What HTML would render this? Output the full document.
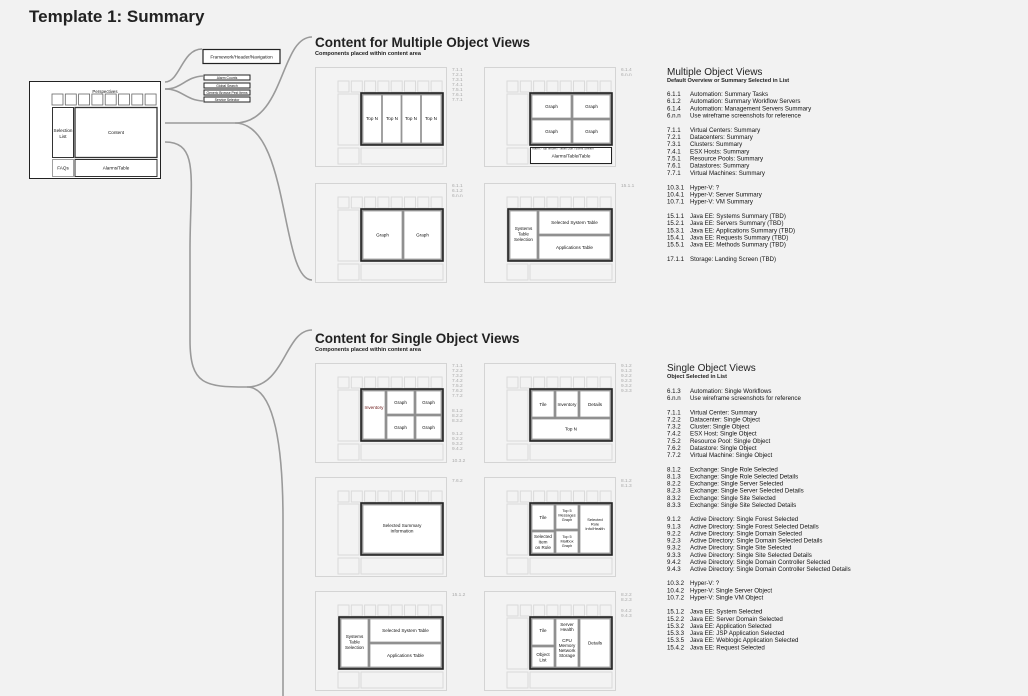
<!DOCTYPE html>
<html><head><meta charset="utf-8"><style>
html,body{margin:0;padding:0;background:#f2f2f2;}
svg{display:block;font-family:"Liberation Sans",Arial,sans-serif;}
.t{font-size:4.6px;fill:#111;text-anchor:middle;}
.n{font-size:4.8px;fill:#aaa;}
.sh{fill:#f3f3f3;stroke:#d4d4d4;stroke-width:1;}
.sb{fill:#f3f3f3;stroke:#dadada;stroke-width:1;}
.ob{fill:#8a8a8a;stroke:#222;stroke-width:1.6;}
.c{fill:#fff;stroke:#9a9a9a;stroke-width:0.8;}
.cv{fill:none;stroke:#9a9a9a;stroke-width:1.6;}
.l{font-size:6.15px;fill:#111;}
</style></head><body>
<svg width="1028" height="696" viewBox="0 0 1028 696">
<defs>
<g id="shell">
<rect class="sh" x="0.5" y="0.5" width="131" height="99"/>
<rect class="sb" x="23" y="14" width="11" height="11"/><rect class="sb" x="36.3" y="14" width="11" height="11"/><rect class="sb" x="49.6" y="14" width="11" height="11"/><rect class="sb" x="62.9" y="14" width="11" height="11"/><rect class="sb" x="76.2" y="14" width="11" height="11"/><rect class="sb" x="89.5" y="14" width="11" height="11"/><rect class="sb" x="102.8" y="14" width="11" height="11"/><rect class="sb" x="116.1" y="14" width="11" height="11"/>
<rect class="sb" x="23" y="27" width="21" height="51"/>
<rect class="sb" x="23" y="81" width="21" height="16"/>
<rect class="sb" x="46" y="81" width="82" height="16"/>
</g>
</defs>

<text x="29" y="22" style="font-size:17px;font-weight:bold;fill:#222">Template 1: Summary</text>

<path class="cv" d="M165,82 C180,82 182,49 202,49"/>
<path class="cv" d="M165,89 C182,89 185,77 203,76"/>
<path class="cv" d="M165,89 C182,89 185,100 203,101"/>
<path class="cv" d="M165,123 L235,123 C285,123 280,37 312,37"/>
<path class="cv" d="M235,123 C290,123 280,280 312,280"/>
<path class="cv" d="M165,142 C200,142 190,180 190,250 L190,340 C190,385 205,387 247,387 C285,387 285,330 312,330"/>
<path class="cv" d="M247,387 C275,387 283,450 283,520 L283,696"/>

<rect x="29.5" y="81.5" width="131" height="97" fill="#fff" stroke="#222" stroke-width="1"/>
<text class="t" x="105" y="93" style="font-size:4.4px">Perspectives</text>
<g fill="#fff" stroke="#666" stroke-width="0.8">
<rect x="52" y="94" width="11" height="11"/><rect x="65.3" y="94" width="11" height="11"/><rect x="78.6" y="94" width="11" height="11"/><rect x="91.9" y="94" width="11" height="11"/><rect x="105.2" y="94" width="11" height="11"/><rect x="118.5" y="94" width="11" height="11"/><rect x="131.8" y="94" width="11" height="11"/><rect x="145.1" y="94" width="11" height="11"/>
</g>
<rect x="52.5" y="107.5" width="21" height="50" fill="#fff" stroke="#333" stroke-width="1"/>
<rect x="75" y="107.5" width="82" height="50" fill="#fff" stroke="#333" stroke-width="1.3"/>
<rect x="52.5" y="159.5" width="21" height="17" fill="#fff" stroke="#888" stroke-width="0.8"/>
<rect x="75" y="159.5" width="82" height="17" fill="#fff" stroke="#333" stroke-width="1"/>
<text class="t" x="63" y="132">Selection</text><text class="t" x="63" y="138">List</text>
<text class="t" x="116" y="134">Content</text>
<text class="t" x="63" y="169.5">FAQs</text>
<text class="t" x="116" y="169.5">Alarms/Table</text>

<rect x="203" y="49.5" width="77" height="14" fill="#fff" stroke="#222" stroke-width="1.2"/>
<text class="t" x="241.5" y="58.3">Framework/Header/Navigation</text>
<g fill="#fff" stroke="#222" stroke-width="1">
<rect x="204" y="75" width="46" height="5"/><rect x="204" y="83" width="46" height="5"/><rect x="204" y="90" width="46" height="5"/><rect x="204" y="97" width="46" height="5"/>
</g>
<text class="t" x="227" y="79" style="font-size:3.4px">Alarm Counts</text>
<text class="t" x="227" y="87" style="font-size:3.4px">Global Search</text>
<text class="t" x="227" y="94" style="font-size:3.4px">Generic Browse Pest Items</text>
<text class="t" x="227" y="101" style="font-size:3.4px">Service Selector</text>

<text x="315" y="47" style="font-size:13.5px;font-weight:bold;fill:#222">Content for Multiple Object Views</text>
<text x="315" y="55" style="font-size:5.6px;font-weight:bold;fill:#222">Components placed within content area</text>
<text x="315" y="343" style="font-size:13.5px;font-weight:bold;fill:#222">Content for Single Object Views</text>
<text x="315" y="351" style="font-size:5.6px;font-weight:bold;fill:#222">Components placed within content area</text>

<g transform="translate(315,67)"><use href="#shell"/>
<rect class="ob" x="46" y="26" width="82" height="52"/>
<rect class="c" x="48" y="28" width="18.5" height="48"/><rect class="c" x="67.5" y="28" width="18.5" height="48"/><rect class="c" x="87" y="28" width="18.5" height="48"/><rect class="c" x="106.5" y="28" width="19.5" height="48"/>
<text class="t" x="57" y="53">Top N</text><text class="t" x="77" y="53">Top N</text><text class="t" x="96" y="53">Top N</text><text class="t" x="116" y="53">Top N</text>
</g>
<text class="n" x="452" y="71">7.1.1</text><text class="n" x="452" y="76">7.2.1</text><text class="n" x="452" y="81">7.3.1</text><text class="n" x="452" y="86">7.4.1</text><text class="n" x="452" y="91">7.5.1</text><text class="n" x="452" y="96">7.6.1</text><text class="n" x="452" y="101">7.7.1</text>

<g transform="translate(484,67)"><use href="#shell"/>
<rect class="ob" x="46" y="26" width="82" height="52"/>
<rect class="c" x="48" y="28" width="39" height="23"/><rect class="c" x="89" y="28" width="37" height="23"/><rect class="c" x="48" y="53" width="39" height="23"/><rect class="c" x="89" y="53" width="37" height="23"/>
<text class="t" x="67.5" y="41">Graph</text><text class="t" x="107.5" y="41">Graph</text><text class="t" x="67.5" y="66">Graph</text><text class="t" x="107.5" y="66">Graph</text>
<rect x="46.5" y="80.5" width="81" height="16" fill="#fff" stroke="#222" stroke-width="1"/>
<text x="48" y="82.5" style="font-size:3px;fill:#333">Alarm / Top Issues / Tasks Due / Event Stream</text>
<text class="t" x="87" y="90.5">Alarms/Table/Table</text>
</g>
<text class="n" x="621" y="71">6.1.4</text><text class="n" x="621" y="76">6.n.n</text>

<g transform="translate(315,183)"><use href="#shell"/>
<rect class="ob" x="46" y="26" width="82" height="52"/>
<rect class="c" x="48" y="28" width="39" height="48"/><rect class="c" x="89" y="28" width="37" height="48"/>
<text class="t" x="67.5" y="53.5">Graph</text><text class="t" x="107.5" y="53.5">Graph</text>
</g>
<text class="n" x="452" y="187">6.1.1</text><text class="n" x="452" y="192">6.1.2</text><text class="n" x="452" y="197">6.n.n</text>

<g transform="translate(484,183)"><use href="#shell"/>
<rect class="ob" x="24" y="26" width="104" height="52"/>
<rect class="c" x="26" y="28" width="27" height="48"/><rect class="c" x="55" y="28" width="71" height="23"/><rect class="c" x="55" y="53" width="71" height="23"/>
<text class="t" x="39.5" y="47">Systems</text><text class="t" x="39.5" y="52.5">Table</text><text class="t" x="39.5" y="58">Selection</text>
<text class="t" x="90.5" y="41">Selected System Table</text><text class="t" x="90.5" y="66">Applications Table</text>
</g>
<text class="n" x="621" y="187">15.1.1</text>

<g transform="translate(315,363)"><use href="#shell"/>
<rect class="ob" x="46" y="26" width="82" height="52"/>
<rect class="c" x="48" y="28" width="22" height="48"/>
<rect class="c" x="72" y="28" width="27" height="23"/><rect class="c" x="101" y="28" width="25" height="23"/><rect class="c" x="72" y="53" width="27" height="23"/><rect class="c" x="101" y="53" width="25" height="23"/>
<text class="t" x="59" y="46" style="fill:#611">Inventory</text>
<text class="t" x="85.5" y="41">Graph</text><text class="t" x="113.5" y="41">Graph</text><text class="t" x="85.5" y="66">Graph</text><text class="t" x="113.5" y="66">Graph</text>
</g>
<text class="n" x="452" y="367">7.1.1</text><text class="n" x="452" y="372">7.2.2</text><text class="n" x="452" y="377">7.3.2</text><text class="n" x="452" y="382">7.4.2</text><text class="n" x="452" y="387">7.5.2</text><text class="n" x="452" y="392">7.6.2</text><text class="n" x="452" y="397">7.7.2</text>
<text class="n" x="452" y="412">8.1.2</text><text class="n" x="452" y="417">8.2.2</text><text class="n" x="452" y="422">8.3.2</text>
<text class="n" x="452" y="435">9.1.2</text><text class="n" x="452" y="440">9.2.2</text><text class="n" x="452" y="445">9.3.2</text><text class="n" x="452" y="450">9.4.2</text>
<text class="n" x="452" y="462">10.3.2</text>

<g transform="translate(484,363)"><use href="#shell"/>
<rect class="ob" x="46" y="26" width="82" height="52"/>
<rect class="c" x="48" y="28" width="22" height="26"/><rect class="c" x="72" y="28" width="22" height="26"/><rect class="c" x="96" y="28" width="30" height="26"/><rect class="c" x="48" y="56" width="78" height="20"/>
<text class="t" x="59" y="43">Tile</text><text class="t" x="83" y="43">Inventory</text><text class="t" x="111" y="43">Details</text><text class="t" x="87" y="67.5">Top N</text>
</g>
<text class="n" x="621" y="367">9.1.2</text><text class="n" x="621" y="372">9.1.3</text><text class="n" x="621" y="377">9.2.2</text><text class="n" x="621" y="382">9.2.3</text><text class="n" x="621" y="387">9.3.2</text><text class="n" x="621" y="392">9.3.3</text>

<g transform="translate(315,477)"><use href="#shell"/>
<rect class="ob" x="46" y="26" width="82" height="52"/>
<rect class="c" x="48" y="28" width="78" height="48"/>
<text class="t" x="87" y="50">Selected Summary</text><text class="t" x="87" y="55.5">Information</text>
</g>
<text class="n" x="452" y="482">7.6.2</text>

<g transform="translate(484,477)"><use href="#shell"/>
<rect class="ob" x="46" y="26" width="82" height="52"/>
<rect class="c" x="48" y="28" width="22" height="25"/><rect class="c" x="48" y="55" width="22" height="21"/>
<rect class="c" x="72" y="28" width="22" height="24"/><rect class="c" x="72" y="54" width="22" height="22"/>
<rect class="c" x="96" y="28" width="30" height="48"/>
<text class="t" x="59" y="42">Tile</text>
<text class="t" x="59" y="61">Selected</text><text class="t" x="59" y="66.5">Item</text><text class="t" x="59" y="72">on Role</text>
<text class="t" x="83" y="35" style="font-size:3.8px">Top 5</text><text class="t" x="83" y="39.5" style="font-size:3.8px">Messages</text><text class="t" x="83" y="44" style="font-size:3.8px">Graph</text>
<text class="t" x="83" y="61" style="font-size:3.8px">Top 5</text><text class="t" x="83" y="65.5" style="font-size:3.8px">Mailbox</text><text class="t" x="83" y="70" style="font-size:3.8px">Graph</text>
<text class="t" x="111" y="44" style="font-size:4px">Selected</text><text class="t" x="111" y="48.5" style="font-size:4px">Role</text><text class="t" x="111" y="53" style="font-size:4px">Info/Health</text>
</g>
<text class="n" x="621" y="482">8.1.2</text><text class="n" x="621" y="487">8.1.3</text>

<g transform="translate(315,591)"><use href="#shell"/>
<rect class="ob" x="24" y="26" width="104" height="52"/>
<rect class="c" x="26" y="28" width="27" height="48"/><rect class="c" x="55" y="28" width="71" height="23"/><rect class="c" x="55" y="53" width="71" height="23"/>
<text class="t" x="39.5" y="47">Systems</text><text class="t" x="39.5" y="52.5">Table</text><text class="t" x="39.5" y="58">Selection</text>
<text class="t" x="90.5" y="41">Selected System Table</text><text class="t" x="90.5" y="66">Applications Table</text>
</g>
<text class="n" x="452" y="596">15.1.2</text>

<g transform="translate(484,591)"><use href="#shell"/>
<rect class="ob" x="46" y="26" width="82" height="52"/>
<rect class="c" x="48" y="28" width="22" height="26"/><rect class="c" x="48" y="56" width="22" height="20"/>
<rect class="c" x="72" y="28" width="22" height="48"/><rect class="c" x="96" y="28" width="30" height="48"/>
<text class="t" x="59" y="41">Tile</text><text class="t" x="59" y="65">Object</text><text class="t" x="59" y="70.5">List</text>
<text class="t" x="83" y="35">Server</text><text class="t" x="83" y="40">Health</text>
<text class="t" x="83" y="51">CPU</text><text class="t" x="83" y="56">Memory</text><text class="t" x="83" y="61">Network</text><text class="t" x="83" y="66">Storage</text>
<text class="t" x="111" y="53.5">Details</text>
</g>
<text class="n" x="621" y="596">8.2.2</text><text class="n" x="621" y="601">8.2.3</text><text class="n" x="621" y="612">9.4.2</text><text class="n" x="621" y="617">9.4.3</text>

<text x="667" y="75" style="font-size:10px;fill:#222">Multiple Object Views</text>
<text x="667" y="82" style="font-size:5.6px;font-weight:bold;fill:#222">Default Overview or Summary Selected in List</text>
<text class="l" y="96"><tspan x="667">6.1.1</tspan><tspan x="690">Automation: Summary Tasks</tspan></text>
<text class="l" y="103.2"><tspan x="667">6.1.2</tspan><tspan x="690">Automation: Summary Workflow Servers</tspan></text>
<text class="l" y="110.3"><tspan x="667">6.1.4</tspan><tspan x="690">Automation: Management Servers Summary</tspan></text>
<text class="l" y="117.5"><tspan x="667">6.n.n</tspan><tspan x="690">Use wireframe screenshots for reference</tspan></text>
<text class="l" y="131.9"><tspan x="667">7.1.1</tspan><tspan x="690">Virtual Centers: Summary</tspan></text>
<text class="l" y="139"><tspan x="667">7.2.1</tspan><tspan x="690">Datacenters: Summary</tspan></text>
<text class="l" y="146.2"><tspan x="667">7.3.1</tspan><tspan x="690">Clusters: Summary</tspan></text>
<text class="l" y="153.4"><tspan x="667">7.4.1</tspan><tspan x="690">ESX Hosts: Summary</tspan></text>
<text class="l" y="160.6"><tspan x="667">7.5.1</tspan><tspan x="690">Resource Pools: Summary</tspan></text>
<text class="l" y="167.7"><tspan x="667">7.6.1</tspan><tspan x="690">Datastores: Summary</tspan></text>
<text class="l" y="174.9"><tspan x="667">7.7.1</tspan><tspan x="690">Virtual Machines: Summary</tspan></text>
<text class="l" y="189.3"><tspan x="667">10.3.1</tspan><tspan x="690">Hyper-V: ?</tspan></text>
<text class="l" y="196.4"><tspan x="667">10.4.1</tspan><tspan x="690">Hyper-V: Server Summary</tspan></text>
<text class="l" y="203.6"><tspan x="667">10.7.1</tspan><tspan x="690">Hyper-V: VM Summary</tspan></text>
<text class="l" y="218"><tspan x="667">15.1.1</tspan><tspan x="690">Java EE: Systems Summary (TBD)</tspan></text>
<text class="l" y="225.1"><tspan x="667">15.2.1</tspan><tspan x="690">Java EE: Servers Summary (TBD)</tspan></text>
<text class="l" y="232.3"><tspan x="667">15.3.1</tspan><tspan x="690">Java EE: Applications Summary (TBD)</tspan></text>
<text class="l" y="239.5"><tspan x="667">15.4.1</tspan><tspan x="690">Java EE: Requests Summary (TBD)</tspan></text>
<text class="l" y="246.6"><tspan x="667">15.5.1</tspan><tspan x="690">Java EE: Methods Summary (TBD)</tspan></text>
<text class="l" y="261"><tspan x="667">17.1.1</tspan><tspan x="690">Storage: Landing Screen (TBD)</tspan></text>

<text x="667" y="371" style="font-size:10px;fill:#222">Single Object Views</text>
<text x="667" y="378" style="font-size:5.6px;font-weight:bold;fill:#222">Object Selected in List</text>
<text class="l" y="393"><tspan x="667">6.1.3</tspan><tspan x="690">Automation: Single Workflows</tspan></text>
<text class="l" y="400.1"><tspan x="667">6.n.n</tspan><tspan x="690">Use wireframe screenshots for reference</tspan></text>
<text class="l" y="414.4"><tspan x="667">7.1.1</tspan><tspan x="690">Virtual Center: Summary</tspan></text>
<text class="l" y="421.5"><tspan x="667">7.2.2</tspan><tspan x="690">Datacenter: Single Object</tspan></text>
<text class="l" y="428.6"><tspan x="667">7.3.2</tspan><tspan x="690">Cluster: Single Object</tspan></text>
<text class="l" y="435.7"><tspan x="667">7.4.2</tspan><tspan x="690">ESX Host: Single Object</tspan></text>
<text class="l" y="442.8"><tspan x="667">7.5.2</tspan><tspan x="690">Resource Pool: Single Object</tspan></text>
<text class="l" y="450"><tspan x="667">7.6.2</tspan><tspan x="690">Datastore: Single Object</tspan></text>
<text class="l" y="457.1"><tspan x="667">7.7.2</tspan><tspan x="690">Virtual Machine: Single Object</tspan></text>
<text class="l" y="471.3"><tspan x="667">8.1.2</tspan><tspan x="690">Exchange: Single Role Selected</tspan></text>
<text class="l" y="478.4"><tspan x="667">8.1.3</tspan><tspan x="690">Exchange: Single Role Selected Details</tspan></text>
<text class="l" y="485.6"><tspan x="667">8.2.2</tspan><tspan x="690">Exchange: Single Server Selected</tspan></text>
<text class="l" y="492.7"><tspan x="667">8.2.3</tspan><tspan x="690">Exchange: Single Server Selected Details</tspan></text>
<text class="l" y="499.8"><tspan x="667">8.3.2</tspan><tspan x="690">Exchange: Single Site Selected</tspan></text>
<text class="l" y="506.9"><tspan x="667">8.3.3</tspan><tspan x="690">Exchange: Single Site Selected Details</tspan></text>
<text class="l" y="521.2"><tspan x="667">9.1.2</tspan><tspan x="690">Active Directory: Single Forest Selected</tspan></text>
<text class="l" y="528.3"><tspan x="667">9.1.3</tspan><tspan x="690">Active Directory: Single Forest Selected Details</tspan></text>
<text class="l" y="535.4"><tspan x="667">9.2.2</tspan><tspan x="690">Active Directory: Single Domain Selected</tspan></text>
<text class="l" y="542.5"><tspan x="667">9.2.3</tspan><tspan x="690">Active Directory: Single Domain Selected Details</tspan></text>
<text class="l" y="549.6"><tspan x="667">9.3.2</tspan><tspan x="690">Active Directory: Single Site Selected</tspan></text>
<text class="l" y="556.8"><tspan x="667">9.3.3</tspan><tspan x="690">Active Directory: Single Site Selected Details</tspan></text>
<text class="l" y="563.9"><tspan x="667">9.4.2</tspan><tspan x="690">Active Directory: Single Domain Controller Selected</tspan></text>
<text class="l" y="571"><tspan x="667">9.4.3</tspan><tspan x="690">Active Directory: Single Domain Controller Selected Details</tspan></text>
<text class="l" y="585.2"><tspan x="667">10.3.2</tspan><tspan x="690">Hyper-V: ?</tspan></text>
<text class="l" y="592.4"><tspan x="667">10.4.2</tspan><tspan x="690">Hyper-V: Single Server Object</tspan></text>
<text class="l" y="599.5"><tspan x="667">10.7.2</tspan><tspan x="690">Hyper-V: Single VM Object</tspan></text>
<text class="l" y="613.7"><tspan x="667">15.1.2</tspan><tspan x="690">Java EE: System Selected</tspan></text>
<text class="l" y="620.8"><tspan x="667">15.2.2</tspan><tspan x="690">Java EE: Server Domain Selected</tspan></text>
<text class="l" y="628"><tspan x="667">15.3.2</tspan><tspan x="690">Java EE: Application Selected</tspan></text>
<text class="l" y="635.1"><tspan x="667">15.3.3</tspan><tspan x="690">Java EE: JSP Application Selected</tspan></text>
<text class="l" y="642.2"><tspan x="667">15.3.5</tspan><tspan x="690">Java EE: Weblogic Application Selected</tspan></text>
<text class="l" y="649.3"><tspan x="667">15.4.2</tspan><tspan x="690">Java EE: Request Selected</tspan></text>
</svg>
</body></html>
